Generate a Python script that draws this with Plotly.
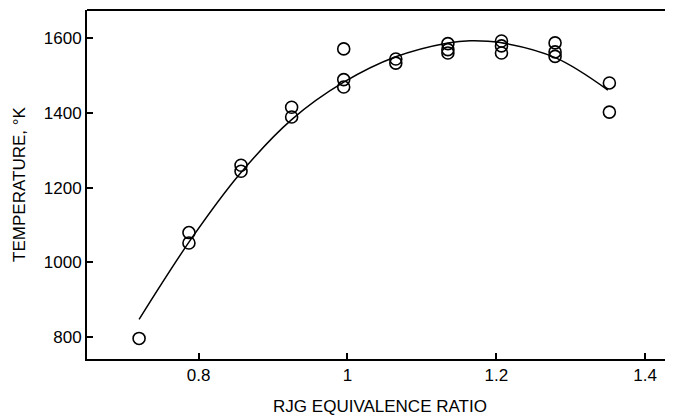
import plotly.graph_objects as go

# Measured data points
phi = [0.72, 0.787, 0.787, 0.857, 0.857, 0.925, 0.925, 0.995, 0.995, 0.995,
       1.065, 1.065, 1.135, 1.135, 1.135, 1.207, 1.207, 1.207,
       1.279, 1.279, 1.279, 1.352, 1.352]
temp = [797, 1080, 1052, 1260, 1244, 1415, 1389, 1571, 1489, 1469,
        1544, 1533, 1585, 1569, 1560, 1592, 1579, 1560,
        1587, 1563, 1551, 1480, 1402]

# Fitted curve
fit_phi = [0.72, 0.79, 0.855, 0.925, 0.995, 1.065, 1.135, 1.165, 1.205, 1.28, 1.35]
fit_temp = [848, 1063, 1236, 1382, 1482, 1550, 1587, 1593, 1588, 1547, 1461]

x_ticks = [0.8, 1.0, 1.2, 1.4]
x_tick_text = ["0.8", "1", "1.2", "1.4"]
y_ticks = [800, 1000, 1200, 1400, 1600]

FONT = "Liberation Sans, Arial, Helvetica, sans-serif"
FS = 17

fig = go.Figure()
fig.add_trace(go.Scatter(
    x=fit_phi, y=fit_temp, mode="lines",
    line=dict(color="black", width=1.5, shape="spline", smoothing=1.0),
    hoverinfo="skip", showlegend=False))
fig.add_trace(go.Scatter(
    x=phi, y=temp, mode="markers",
    marker=dict(symbol="circle-open", size=12, color="black",
                line=dict(color="black", width=1.6)),
    showlegend=False))

# page body has ~8px margin, so figure is sized/offset to compensate
fig.update_layout(
    width=665, height=411,
    margin=dict(l=79, r=0, t=2, b=60),
    paper_bgcolor="white", plot_bgcolor="white",
    font=dict(family=FONT, size=FS, color="black"),
)
fig.update_xaxes(
    range=[0.650, 1.4375], tickvals=x_ticks, ticktext=x_tick_text,
    ticks="inside", ticklen=6, tickwidth=2, tickcolor="black",
    showline=True, linecolor="black", linewidth=2, mirror=False,
    showgrid=False, zeroline=False,
    tickfont=dict(family=FONT, size=FS),
    title=dict(text="RJG EQUIVALENCE RATIO", font=dict(family=FONT, size=FS), standoff=16),
)
fig.update_yaxes(
    range=[742, 1675], tickvals=y_ticks,
    ticks="inside", ticklen=6, tickwidth=2, tickcolor="black",
    showline=True, linecolor="black", linewidth=2,
    showgrid=False, zeroline=False,
    tickfont=dict(family=FONT, size=FS),
    title=dict(text="TEMPERATURE, °K", font=dict(family=FONT, size=FS), standoff=14),
)
# top border line (left and top only)
fig.add_shape(type="line", xref="paper", yref="paper", x0=0, x1=1, y0=1, y1=1,
              line=dict(color="black", width=2))

fig.write_html("out.html")
